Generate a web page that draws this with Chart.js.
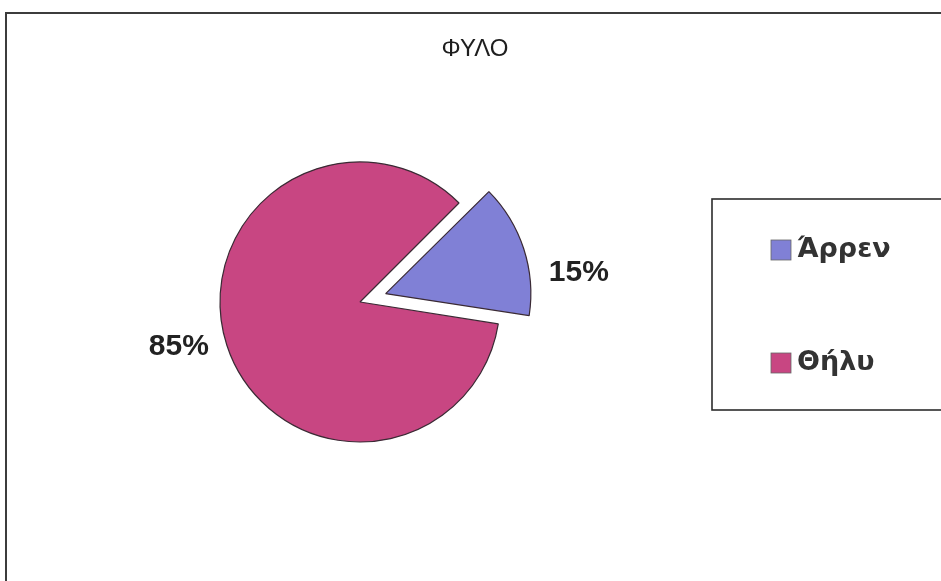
<!DOCTYPE html>
<html>
<head>
<meta charset="utf-8">
<script src="https://cdn.jsdelivr.net/npm/chart.js@4.4.1/dist/chart.umd.min.js"></script>
<style>
  html, body { margin: 0; padding: 0; background: #fff; }
  canvas { display: block; }
</style>
</head>
<body>
<canvas id="sexChart" width="941" height="581"></canvas>
<script>
const labels = ["Άρρεν", "Θήλυ"];
const values = [15, 85];
const percentLabels = ["15%", "85%"];
const colors = ["rgb(128, 128, 214)", "rgb(200, 70, 130)"];

// frame, title and boxed legend like the original spreadsheet chart
const decorPlugin = {
    id: "decor",
    beforeDraw(chart) {
        const ctx = chart.ctx;
        ctx.save();
        ctx.fillStyle = "#fff";
        ctx.fillRect(0, 0, chart.width, chart.height);
        ctx.strokeStyle = "#3c3c3c";
        ctx.lineWidth = 2;
        ctx.beginPath();
        ctx.moveTo(6, chart.height);
        ctx.lineTo(6, 13);
        ctx.lineTo(chart.width, 13);
        ctx.stroke();

        ctx.fillStyle = "#1e1e1e";
        ctx.font = "24px 'Liberation Sans', Arial, sans-serif";
        ctx.textAlign = "center";
        ctx.textBaseline = "middle";
        ctx.fillText("ΦΥΛΟ", 475, 49);
        ctx.restore();
    },
    afterDatasetsDraw(chart) {
        const ctx = chart.ctx;
        const meta = chart.getDatasetMeta(0);
        const offset = chart.data.datasets[0].offset;
        ctx.save();
        ctx.fillStyle = "#222";
        ctx.font = "bold 30px 'Liberation Sans', Arial, sans-serif";
        ctx.textAlign = "center";
        ctx.textBaseline = "middle";
        meta.data.forEach((arc, i) => {
            const p = arc.getProps(["x", "y", "startAngle", "endAngle", "outerRadius"], true);
            const mid = (p.startAngle + p.endAngle) / 2;
            // chart.js moves an arc by a quarter of its offset
            const off = (Array.isArray(offset) ? offset[i] : offset) / 4;
            const cx = p.x + Math.cos(mid) * off;
            const cy = p.y + Math.sin(mid) * off;
            const a = mid + 0.14;
            const d = p.outerRadius + 50;
            ctx.fillText(percentLabels[i], cx + Math.cos(a) * d + 6, cy + Math.sin(a) * d + 12);
        });

        // legend box
        ctx.strokeStyle = "#2c2c2c";
        ctx.lineWidth = 1.6;
        ctx.strokeRect(712, 199, 260, 211);
        ctx.font = "bold 27px 'DejaVu Sans', Verdana, sans-serif";
        ctx.textAlign = "left";
        ctx.textBaseline = "middle";
        chart.data.labels.forEach((lab, i) => {
            const y = 250 + i * 113;
            ctx.fillStyle = chart.data.datasets[0].backgroundColor[i];
            ctx.fillRect(771, y - 10, 20, 20);
            ctx.strokeStyle = "#666";
            ctx.lineWidth = 0.8;
            ctx.strokeRect(771, y - 10, 20, 20);
            ctx.fillStyle = "#333";
            ctx.fillText(lab, 797, y);
        });
        ctx.restore();
    }
};

const sexData = {
    labels: labels,
    datasets: [
        {
            label: "ΦΥΛΟ",
            data: values,
            backgroundColor: colors,
            borderColor: "#3a2a34",
            borderWidth: 1.2,
            offset: [108, 0],
        },
    ],
};

const sexConfig = {
    type: "pie",
    data: sexData,
    options: {
        responsive: false,
        animation: false,
        rotation: 45,
        radius: 140,
        layout: {
            padding: { left: 100, right: 321, top: 60, bottom: 37 }
        },
        plugins: {
            legend: { display: false },
            title: { display: false },
            tooltip: { enabled: false }
        }
    },
    plugins: [decorPlugin],
};

const sexChart = new Chart(document.getElementById("sexChart"), sexConfig);
</script>
</body>
</html>
